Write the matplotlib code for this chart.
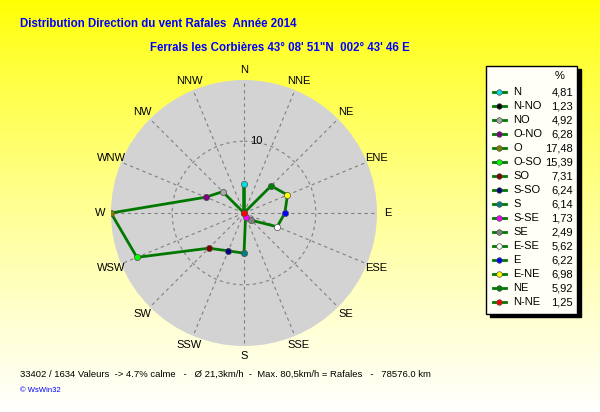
import numpy as np
import matplotlib
matplotlib.use("Agg")
import matplotlib.pyplot as plt
from matplotlib.patches import Rectangle
from matplotlib.lines import Line2D

# donnees (ordre de la legende)
dirs = ['N', 'N-NO', 'NO', 'O-NO', 'O', 'O-SO', 'SO', 'S-SO', 'S', 'S-SE',
        'SE', 'E-SE', 'E', 'E-NE', 'NE', 'N-NE']
pct = [4.81, 1.23, 4.92, 6.28, 17.48, 15.39, 7.31, 6.24, 6.14, 1.73,
       2.49, 5.62, 6.22, 6.98, 5.92, 1.25]
colors = ['#00E0E0', '#000000', '#A8A8A8', '#800080', '#808000', '#00FF00',
          '#800000', '#000080', '#008080', '#FF00FF', '#808080', '#FFFFFF',
          '#0000FF', '#FFFF00', '#008000', '#FF0000']
compass = ['N', 'NNE', 'NE', 'ENE', 'E', 'ESE', 'SE', 'SSE',
           'S', 'SSW', 'SW', 'WSW', 'W', 'WNW', 'NW', 'NNW']

title = "Distribution Direction du vent Rafales  Année 2014"
subtitle = "Ferrals les Corbières 43° 08' 51\"N  002° 43' 46 E"
footer = ("33402 / 1634 Valeurs  -> 4.7% calme   -   Ø 21,3km/h  -  "
          "Max. 80,5km/h = Rafales   -   78576.0 km")

narrow = ['Liberation Sans Narrow', 'Liberation Sans', 'DejaVu Sans']
plt.rcParams['font.family'] = ['Liberation Sans', 'DejaVu Sans']

W, H = 600, 412
fig = plt.figure(figsize=(W / 100, H / 100), dpi=100)

# fond degrade jaune -> blanc
bg = fig.add_axes([0, 0, 1, 1], zorder=-10)
t = np.linspace(0, 1, 256)[:, None]
grad = np.dstack([np.ones_like(t), np.ones_like(t), t ** 0.8])
bg.imshow(grad, aspect='auto', extent=[0, 1, 0, 1])
bg.set_axis_off()

# rose des vents
cx, cy, R = 244, 213, 133
ax = fig.add_axes([(cx - R) / W, (H - cy - R) / H, 2 * R / W, 2 * R / H],
                  projection='polar')
ax.set_theta_zero_location('N')
ax.set_theta_direction(-1)
ax.set_facecolor('#D3D3D3')
ax.spines['polar'].set_visible(False)

theta = np.deg2rad(-22.5 * np.arange(len(dirs))) % (2 * np.pi)
th = np.append(theta, theta[0])
rr = np.append(pct, pct[0])
ax.plot(th, rr, color='#007800', lw=2, zorder=3)
for a, v, c in zip(theta, pct, colors):
    ax.plot(a, v, 'o', ms=4.5, mfc=c, mec='#505050', mew=0.5, zorder=4)

ax.set_ylim(min(pct), max(pct))
ax.set_rticks([10])
ax.set_yticklabels(['10'], fontsize=8)
ax.set_rlabel_position(5)
ax.set_thetagrids(np.arange(0, 360, 22.5), compass, fontsize=8)
ax.tick_params(axis='x', pad=-3)
ax.tick_params(axis='y', pad=0)
for lab in ax.get_yticklabels():
    lab.set_va('center')
ax.grid(True, color='#808080', ls=(0, (3, 3)), lw=0.8)

# textes
fig.text(20 / W, 1 - 24 / H, title, color='#0000FF', fontsize=8.3,
         fontweight='bold', family=narrow, va='center')
fig.text(150 / W, 1 - 48 / H, subtitle, color='#0000FF', fontsize=8.3,
         fontweight='bold', family=narrow, va='center')
fig.text(20 / W, 1 - 374 / H, footer, fontsize=6.8, va='center')
fig.text(20 / W, 1 - 391 / H, "© WsWin32", color='#0000FF', fontsize=5.5,
         va='center')

# legende
lg = fig.add_axes([0, 0, 1, 1], zorder=5)
lg.set_xlim(0, W)
lg.set_ylim(H, 0)
lg.set_axis_off()
lg.add_patch(Rectangle((490, 69), 91, 248, color='black'))
lg.add_patch(Rectangle((486, 66), 91, 248, fc='#FFFFF8', ec='black', lw=1))
lg.text(560, 76, '%', fontsize=8, ha='center', va='center')
for i, (d, v, c) in enumerate(zip(dirs, pct, colors)):
    y = 92.3 + 14 * i
    lg.add_line(Line2D([493, 506], [y, y], color='#007800', lw=2))
    lg.plot(499, y, 'o', ms=4, mfc=c, mec='#505050', mew=0.5)
    lg.text(513, y, d, fontsize=8, va='center')
    lg.text(573, y, f"{v:.2f}".replace('.', ','), fontsize=8,
            ha='right', va='center')

fig.savefig('out.png', dpi=100)
